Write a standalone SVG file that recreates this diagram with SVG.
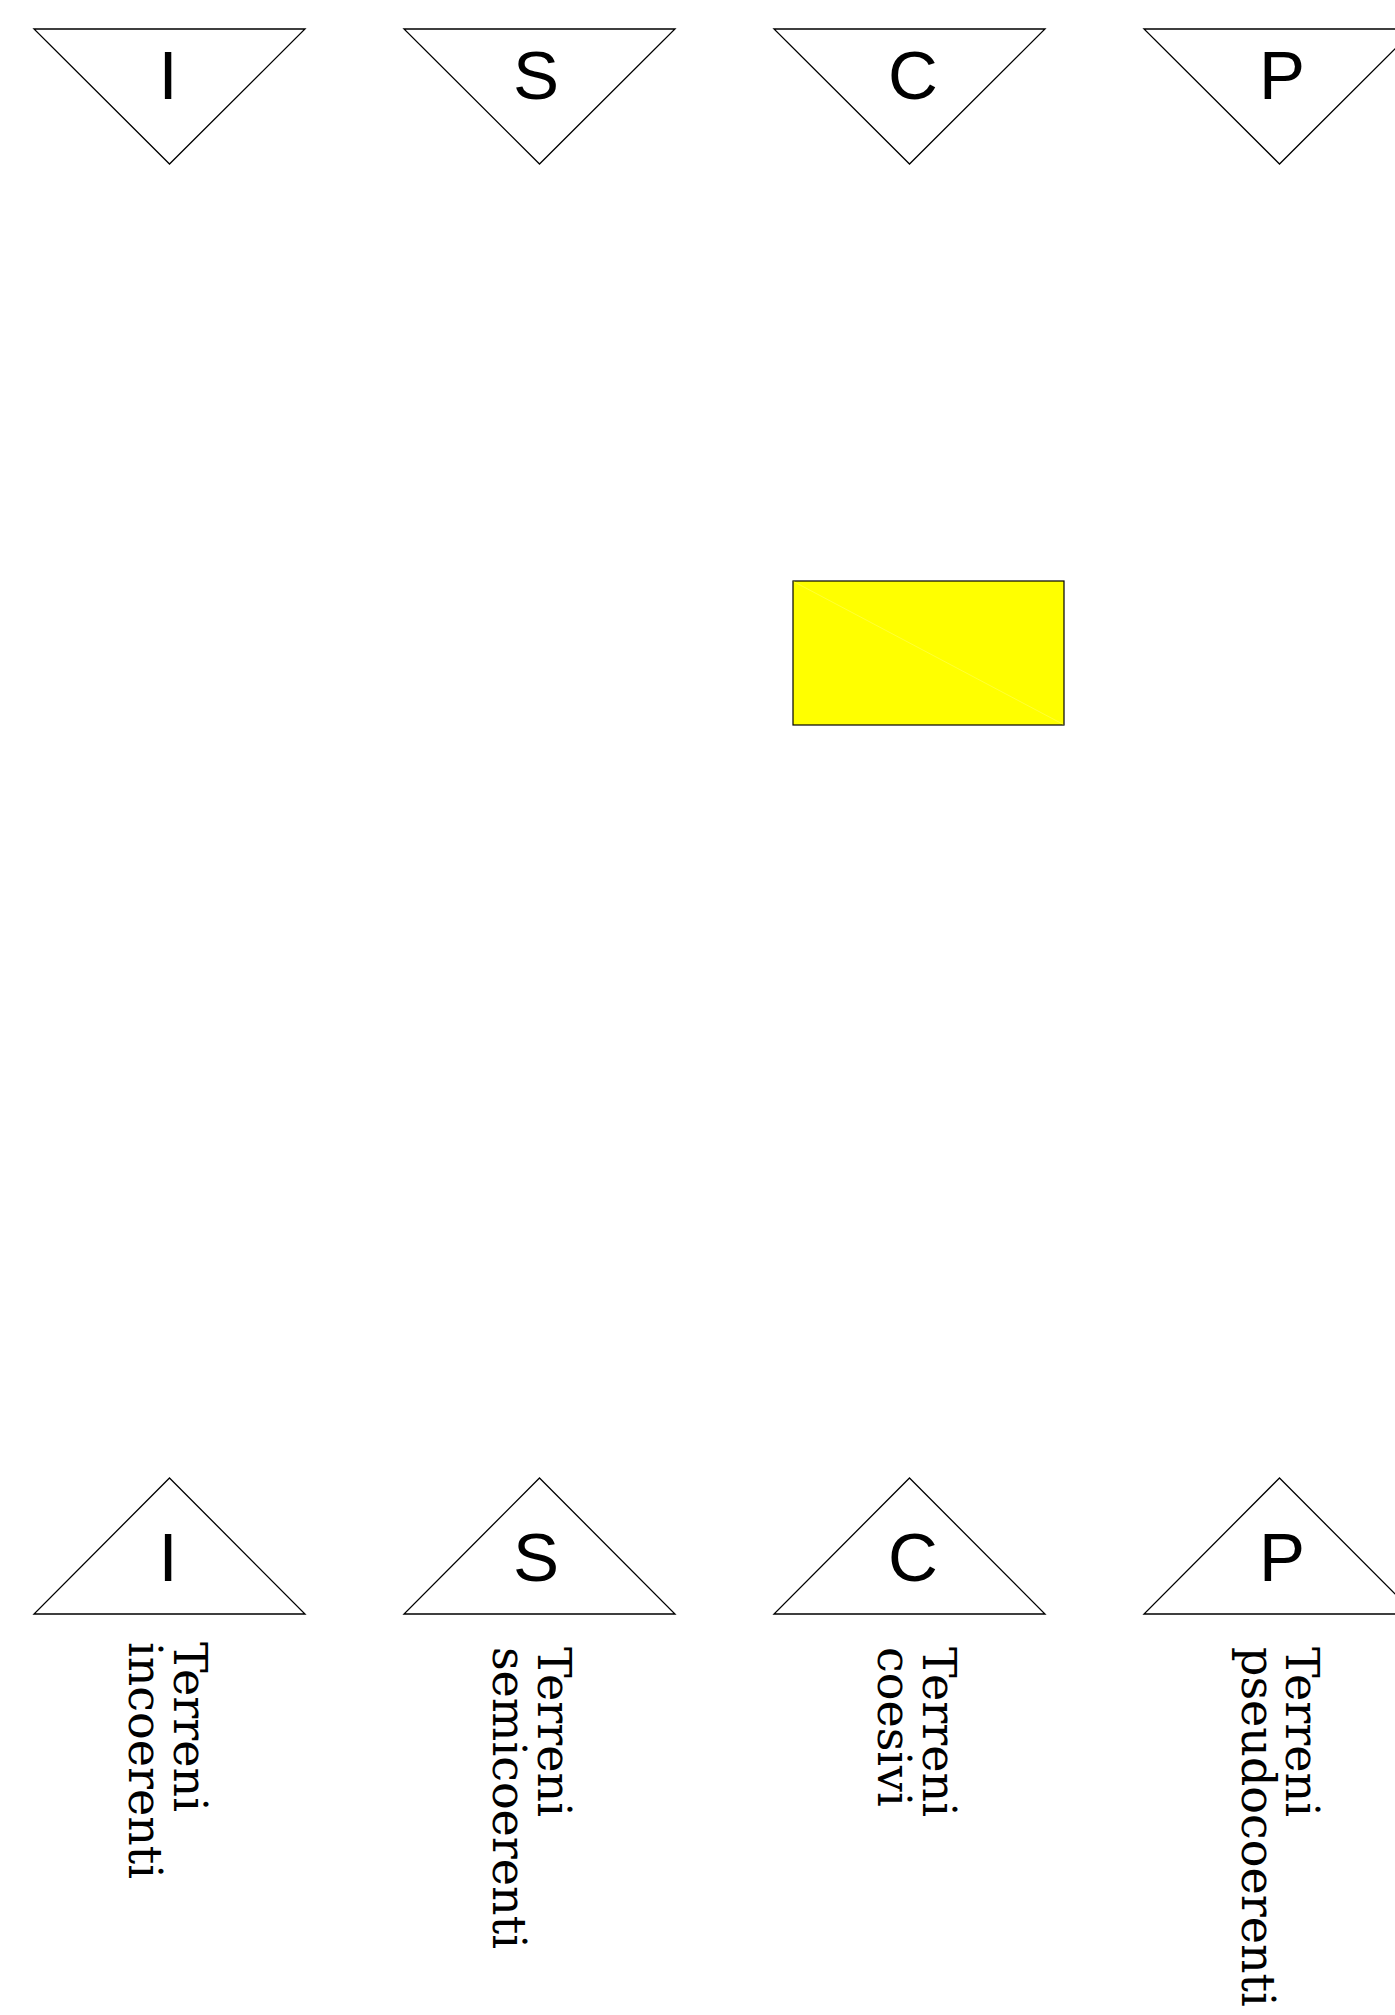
<svg xmlns="http://www.w3.org/2000/svg" width="1395" height="2015" viewBox="0 0 1395 2015">
  <style>
    .tri { fill: #ffffff; stroke: #000000; stroke-width: 1.3; stroke-linejoin: miter; }
    .sym { font-family: "Liberation Sans", Arial, sans-serif; font-size: 69px; fill: #000000; text-anchor: middle; }
    .lbl { font-family: "DejaVu Serif", serif; font-size: 46px; fill: #000000; }
    .box { fill: #ffff00; stroke: #000000; stroke-width: 1.2; }
  </style>
  <rect x="0" y="0" width="1395" height="2015" fill="#ffffff"/>

  <g id="connectors"></g>

  <!-- Top triangles (inverted) -->
  <g id="top-I">
    <polygon class="tri" points="34,29 305,29 169.5,164"/>
    <text class="sym" x="168" y="99">I</text>
  </g>
  <g id="top-S">
    <polygon class="tri" points="404,29 675,29 539.5,164"/>
    <text class="sym" x="536" y="99">S</text>
  </g>
  <g id="top-C">
    <polygon class="tri" points="774,29 1045,29 909.5,164"/>
    <text class="sym" x="913" y="99">C</text>
  </g>
  <g id="top-P">
    <polygon class="tri" points="1144,29 1415,29 1279.5,164"/>
    <text class="sym" x="1282" y="99">P</text>
  </g>

  <!-- Yellow box -->
  <g id="box">
    <rect class="box" x="793" y="581" width="271" height="144"/>
    <line x1="793.5" y1="581.5" x2="1063.5" y2="724.5" stroke="#ffff80" stroke-width="0.6" opacity="0.7"/>
  </g>

  <!-- Bottom triangles -->
  <g id="bottom-I">
    <polygon class="tri" points="169.5,1478 305,1614 34,1614"/>
    <text class="sym" x="168" y="1581">I</text>
    <text class="lbl" transform="translate(174,1642) rotate(90)"><tspan x="0" y="0">Terreni</tspan><tspan x="0" y="45">incoerenti</tspan></text>
  </g>
  <g id="bottom-S">
    <polygon class="tri" points="539.5,1478 675,1614 404,1614"/>
    <text class="sym" x="536" y="1581">S</text>
    <text class="lbl" transform="translate(538,1647) rotate(90)"><tspan x="0" y="0">Terreni</tspan><tspan x="0" y="45">semicoerenti</tspan></text>
  </g>
  <g id="bottom-C">
    <polygon class="tri" points="909.5,1478 1045,1614 774,1614"/>
    <text class="sym" x="913" y="1581">C</text>
    <text class="lbl" transform="translate(923,1647) rotate(90)"><tspan x="0" y="0">Terreni</tspan><tspan x="0" y="45">coesivi</tspan></text>
  </g>
  <g id="bottom-P">
    <polygon class="tri" points="1279.5,1478 1415,1614 1144,1614"/>
    <text class="sym" x="1282" y="1581">P</text>
    <text class="lbl" transform="translate(1286,1647) rotate(90)"><tspan x="0" y="0">Terreni</tspan><tspan x="0" y="44">pseudocoerenti</tspan></text>
  </g>
</svg>
